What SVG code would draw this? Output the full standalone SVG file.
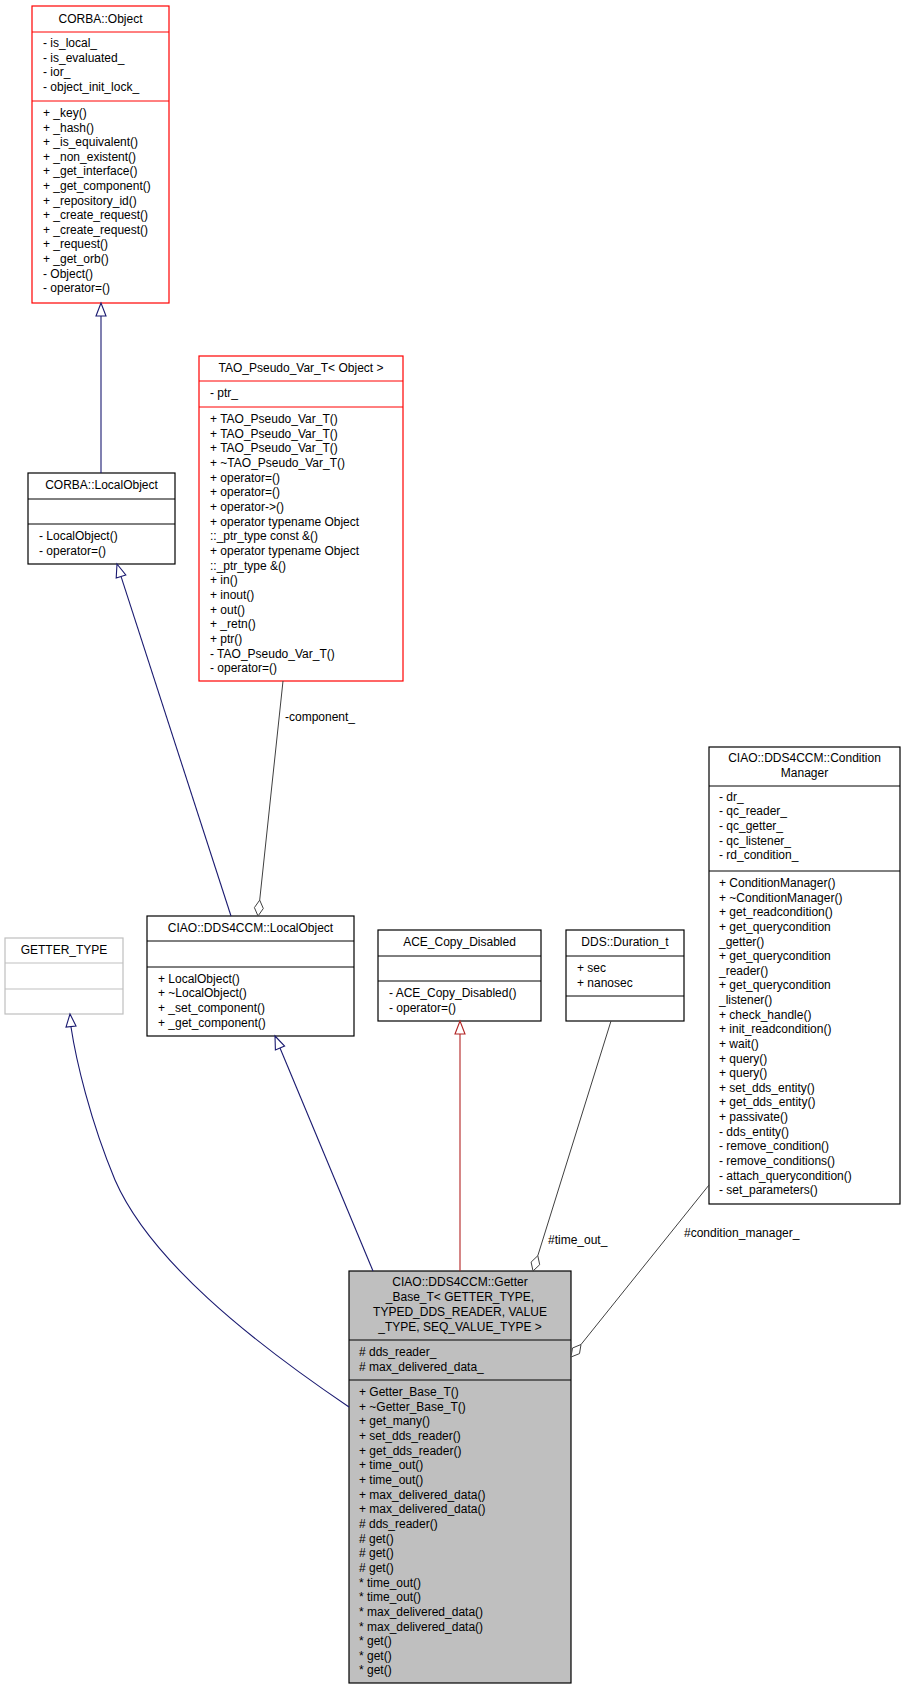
<svg xmlns="http://www.w3.org/2000/svg" width="907" height="1691" viewBox="0 0 907 1691">
<style>
text{font-family:"Liberation Sans",Arial,sans-serif;font-size:12px;fill:#000}
.c{text-anchor:middle}
.box{fill:#fff;stroke:#000;stroke-width:1.2}
.red{fill:#fff;stroke:#ff0000;stroke-width:1.2}
.gray{fill:#fff;stroke:#bfbfbf;stroke-width:1.2}
.cur{fill:#bfbfbf;stroke:#000;stroke-width:1.2}
.inh{fill:none;stroke:#191970;stroke-width:1.1}
.inhh{fill:#fff;stroke:#191970;stroke-width:1.1}
.pri{fill:none;stroke:#b22222;stroke-width:1.1}
.prih{fill:#fff;stroke:#b22222;stroke-width:1.1}
.as{fill:none;stroke:#404040;stroke-width:1}
.ash{fill:#fff;stroke:#404040;stroke-width:1}
</style>
<g id="corba_object">
<rect class="red" x="32" y="6" width="137" height="297"/>
<line x1="32" y1="32" x2="169" y2="32" stroke="#ff0000"/>
<line x1="32" y1="101" x2="169" y2="101" stroke="#ff0000"/>
<text class="c" x="100.5" y="23">CORBA::Object</text>
<text x="43" y="47">- is_local_</text>
<text x="43" y="62">- is_evaluated_</text>
<text x="43" y="76">- ior_</text>
<text x="43" y="91">- object_init_lock_</text>
<text x="43" y="117">+ _key()</text>
<text x="43" y="132">+ _hash()</text>
<text x="43" y="146">+ _is_equivalent()</text>
<text x="43" y="161">+ _non_existent()</text>
<text x="43" y="175">+ _get_interface()</text>
<text x="43" y="190">+ _get_component()</text>
<text x="43" y="205">+ _repository_id()</text>
<text x="43" y="219">+ _create_request()</text>
<text x="43" y="234">+ _create_request()</text>
<text x="43" y="248">+ _request()</text>
<text x="43" y="263">+ _get_orb()</text>
<text x="43" y="278">- Object()</text>
<text x="43" y="292">- operator=()</text>
</g>
<g id="corba_localobject">
<rect class="box" x="28" y="473" width="147" height="91"/>
<line x1="28" y1="499" x2="175" y2="499" stroke="#000"/>
<line x1="28" y1="524" x2="175" y2="524" stroke="#000"/>
<text class="c" x="101.5" y="489">CORBA::LocalObject</text>
<text x="39" y="540">- LocalObject()</text>
<text x="39" y="555">- operator=()</text>
</g>
<g id="tao_pseudo_var">
<rect class="red" x="199" y="356" width="204" height="325"/>
<line x1="199" y1="381" x2="403" y2="381" stroke="#ff0000"/>
<line x1="199" y1="407" x2="403" y2="407" stroke="#ff0000"/>
<text class="c" x="301" y="372">TAO_Pseudo_Var_T&lt; Object &gt;</text>
<text x="210" y="397">- ptr_</text>
<text x="210" y="423">+ TAO_Pseudo_Var_T()</text>
<text x="210" y="438">+ TAO_Pseudo_Var_T()</text>
<text x="210" y="452">+ TAO_Pseudo_Var_T()</text>
<text x="210" y="467">+ ~TAO_Pseudo_Var_T()</text>
<text x="210" y="482">+ operator=()</text>
<text x="210" y="496">+ operator=()</text>
<text x="210" y="511">+ operator-&gt;()</text>
<text x="210" y="526">+ operator typename Object</text>
<text x="210" y="540">::_ptr_type const &amp;()</text>
<text x="210" y="555">+ operator typename Object</text>
<text x="210" y="570">::_ptr_type &amp;()</text>
<text x="210" y="584">+ in()</text>
<text x="210" y="599">+ inout()</text>
<text x="210" y="614">+ out()</text>
<text x="210" y="628">+ _retn()</text>
<text x="210" y="643">+ ptr()</text>
<text x="210" y="658">- TAO_Pseudo_Var_T()</text>
<text x="210" y="672">- operator=()</text>
</g>
<g id="getter_type">
<rect class="gray" x="5" y="938" width="118" height="76"/>
<line x1="5" y1="963" x2="123" y2="963" stroke="#bfbfbf"/>
<line x1="5" y1="989" x2="123" y2="989" stroke="#bfbfbf"/>
<text class="c" x="64" y="954">GETTER_TYPE</text>
</g>
<g id="dds4ccm_localobject">
<rect class="box" x="147" y="916" width="207" height="120"/>
<line x1="147" y1="941" x2="354" y2="941" stroke="#000"/>
<line x1="147" y1="967" x2="354" y2="967" stroke="#000"/>
<text class="c" x="250.5" y="932">CIAO::DDS4CCM::LocalObject</text>
<text x="158" y="983">+ LocalObject()</text>
<text x="158" y="997">+ ~LocalObject()</text>
<text x="158" y="1012">+ _set_component()</text>
<text x="158" y="1027">+ _get_component()</text>
</g>
<g id="ace_copy_disabled">
<rect class="box" x="378" y="930" width="163" height="91"/>
<line x1="378" y1="956" x2="541" y2="956" stroke="#000"/>
<line x1="378" y1="981" x2="541" y2="981" stroke="#000"/>
<text class="c" x="459.5" y="946">ACE_Copy_Disabled</text>
<text x="389" y="997">- ACE_Copy_Disabled()</text>
<text x="389" y="1012">- operator=()</text>
</g>
<g id="dds_duration">
<rect class="box" x="566" y="930" width="118" height="91"/>
<line x1="566" y1="956" x2="684" y2="956" stroke="#000"/>
<line x1="566" y1="996" x2="684" y2="996" stroke="#000"/>
<text class="c" x="625" y="946">DDS::Duration_t</text>
<text x="577" y="972">+ sec</text>
<text x="577" y="987">+ nanosec</text>
</g>
<g id="condition_manager">
<rect class="box" x="709" y="747" width="191" height="457"/>
<line x1="709" y1="786" x2="900" y2="786" stroke="#000"/>
<line x1="709" y1="871" x2="900" y2="871" stroke="#000"/>
<text class="c" x="804.5" y="762">CIAO::DDS4CCM::Condition</text>
<text class="c" x="804.5" y="777">Manager</text>
<text x="719" y="801">- dr_</text>
<text x="719" y="815">- qc_reader_</text>
<text x="719" y="830">- qc_getter_</text>
<text x="719" y="845">- qc_listener_</text>
<text x="719" y="859">- rd_condition_</text>
<text x="719" y="887">+ ConditionManager()</text>
<text x="719" y="902">+ ~ConditionManager()</text>
<text x="719" y="916">+ get_readcondition()</text>
<text x="719" y="931">+ get_querycondition</text>
<text x="719" y="946">_getter()</text>
<text x="719" y="960">+ get_querycondition</text>
<text x="719" y="975">_reader()</text>
<text x="719" y="989">+ get_querycondition</text>
<text x="719" y="1004">_listener()</text>
<text x="719" y="1019">+ check_handle()</text>
<text x="719" y="1033">+ init_readcondition()</text>
<text x="719" y="1048">+ wait()</text>
<text x="719" y="1063">+ query()</text>
<text x="719" y="1077">+ query()</text>
<text x="719" y="1092">+ set_dds_entity()</text>
<text x="719" y="1106">+ get_dds_entity()</text>
<text x="719" y="1121">+ passivate()</text>
<text x="719" y="1136">- dds_entity()</text>
<text x="719" y="1150">- remove_condition()</text>
<text x="719" y="1165">- remove_conditions()</text>
<text x="719" y="1180">- attach_querycondition()</text>
<text x="719" y="1194">- set_parameters()</text>
</g>
<g id="getter_base">
<rect class="cur" x="349" y="1271" width="222" height="412"/>
<line x1="349" y1="1340" x2="571" y2="1340" stroke="#000"/>
<line x1="349" y1="1380" x2="571" y2="1380" stroke="#000"/>
<text class="c" x="460" y="1286">CIAO::DDS4CCM::Getter</text>
<text class="c" x="460" y="1301">_Base_T&lt; GETTER_TYPE,</text>
<text class="c" x="460" y="1316"> TYPED_DDS_READER, VALUE</text>
<text class="c" x="460" y="1331">_TYPE, SEQ_VALUE_TYPE &gt;</text>
<text x="359" y="1356"># dds_reader_</text>
<text x="359" y="1371"># max_delivered_data_</text>
<text x="359" y="1396">+ Getter_Base_T()</text>
<text x="359" y="1411">+ ~Getter_Base_T()</text>
<text x="359" y="1425">+ get_many()</text>
<text x="359" y="1440">+ set_dds_reader()</text>
<text x="359" y="1455">+ get_dds_reader()</text>
<text x="359" y="1469">+ time_out()</text>
<text x="359" y="1484">+ time_out()</text>
<text x="359" y="1499">+ max_delivered_data()</text>
<text x="359" y="1513">+ max_delivered_data()</text>
<text x="359" y="1528"># dds_reader()</text>
<text x="359" y="1543"># get()</text>
<text x="359" y="1557"># get()</text>
<text x="359" y="1572"># get()</text>
<text x="359" y="1587">* time_out()</text>
<text x="359" y="1601">* time_out()</text>
<text x="359" y="1616">* max_delivered_data()</text>
<text x="359" y="1631">* max_delivered_data()</text>
<text x="359" y="1645">* get()</text>
<text x="359" y="1660">* get()</text>
<text x="359" y="1674">* get()</text>
</g>
<g id="connectors">
<line class="inh" x1="101" y1="316" x2="101" y2="473"/>
<polygon class="inhh" points="101,303 96,316 106,316"/>
<line class="inh" x1="121" y1="576.4" x2="231" y2="916"/>
<polygon class="inhh" points="117,564 125.8,574.9 116.2,577.9"/>
<path class="inh" d="M349,1407 C250,1340 150,1260 115,1180 C90,1120 76,1060 71,1027"/>
<polygon class="inhh" points="70,1014 66,1027 76,1026"/>
<line class="inh" x1="280" y1="1048" x2="373" y2="1271"/>
<polygon class="inhh" points="275,1036 284.6,1046.1 275.4,1049.9"/>
<line class="pri" x1="460" y1="1034" x2="460" y2="1271"/>
<polygon class="prih" points="460,1021 455,1034 465,1034"/>
<line class="as" x1="283" y1="681" x2="259.7" y2="900.1"/>
<polygon class="ash" points="258,916 263.3,908.5 259.7,900.1 254.4,907.6"/>
<text x="285" y="721">-component_</text>
<line class="as" x1="611" y1="1021" x2="537.8" y2="1255.7"/>
<polygon class="ash" points="533,1271 539.7,1264.7 537.8,1255.7 531.1,1262.1"/>
<text x="548" y="1244">#time_out_</text>
<line class="as" x1="709" y1="1185" x2="581" y2="1344.5"/>
<polygon class="ash" points="571,1357 579.5,1353.6 581,1344.5 572.5,1348"/>
<text x="684" y="1237">#condition_manager_</text>
</g>
</svg>
